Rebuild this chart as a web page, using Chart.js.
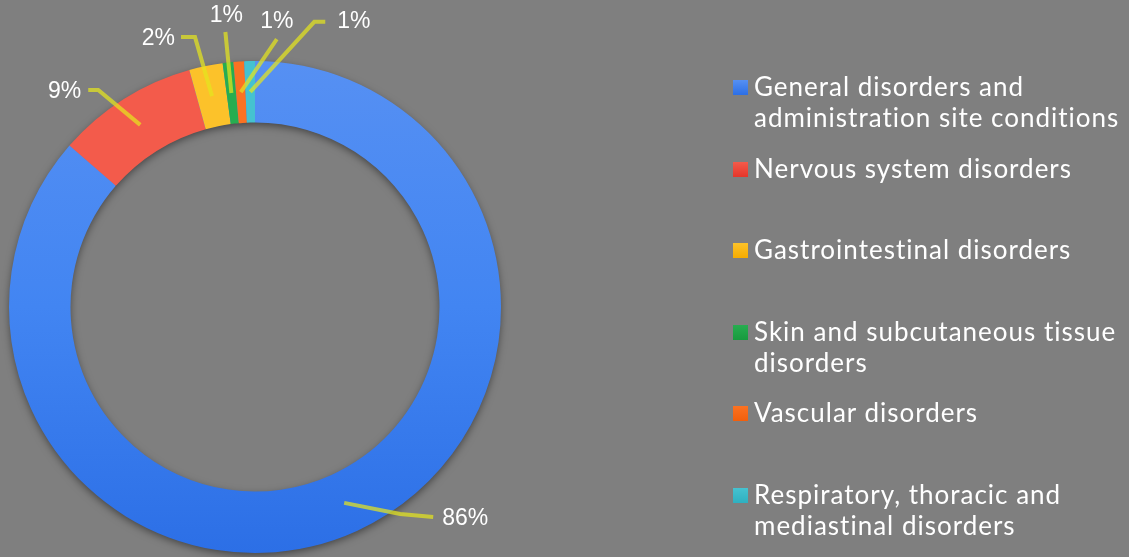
<!DOCTYPE html>
<html>
<head>
<meta charset="utf-8">
<script src="https://cdn.jsdelivr.net/npm/chart.js@4/dist/chart.umd.min.js"></script>
<style>
  html, body { margin: 0; padding: 0; background: #7f7f7f; }
  #wrap { position: relative; width: 1129px; height: 557px; overflow: hidden; }
  #pie { position: absolute; left: 0; top: 0; }
  #legend { position: absolute; left: 733px; top: 71px; font-family: Lato, sans-serif; font-size: 26px; letter-spacing: 1px; font-variant-ligatures: none; color: #fff; }
  .item { position: absolute; left: 0; width: 420px; line-height: 31px; }
  .box { position: absolute; left: 0; top: 9px; width: 15px; height: 15px; }
  .txt { margin-left: 21px; white-space: nowrap; }
</style>
</head>
<body>
<div id="wrap">
  <canvas id="pie" width="1129" height="557"></canvas>
  <div id="legend"></div>
</div>
<script>
const categories = [
  'General disorders and\nadministration site conditions',
  'Nervous system disorders',
  'Gastrointestinal disorders',
  'Skin and subcutaneous tissue\ndisorders',
  'Vascular disorders',
  'Respiratory, thoracic and\nmediastinal disorders'
];
const shares = [86.4, 9.3, 2.2, 0.7, 0.7, 0.7];
const topColors = ['#5690f3', '#f35b4b', '#fcc22a', '#27ad50', '#fb7222', '#45c2d0'];
const bottomColors = ['#2c6fe6', '#e5352a', '#f6ac00', '#179a3e', '#f25f0c', '#2fb0c0'];

// label placement relative to each slice's centre point (elbow, line end, text)
const labelLayout = [
  { elbow: [56, 11], end: [89, 14], text: [98, 16], align: 'left' },
  { elbow: [-42, -35], end: [-52, -35], text: [-59, -33], align: 'right' },
  { elbow: [-17, -59], end: [-31, -59], text: [-37, -57], align: 'right' },
  { elbow: null, end: [-6, -61], text: [-5, -77], align: 'center' },
  { elbow: null, end: [36, -53], text: [36, -71], align: 'center' },
  { elbow: [64, -70], end: [75, -70], text: [87, -70], align: 'left' }
];

function sliceFill(ctx) {
  const chart = ctx.chart;
  const area = chart.chartArea;
  const i = ctx.dataIndex;
  if (!area) return topColors[i];
  const g = chart.ctx.createLinearGradient(0, area.top, 0, area.bottom);
  g.addColorStop(0, topColors[i]);
  g.addColorStop(0.5, topColors[i] === '#5690f3' ? '#4285f2' : topColors[i]);
  g.addColorStop(1, bottomColors[i]);
  return g;
}

// soft shadow under the whole ring
const ringShadow = {
  id: 'ringShadow',
  beforeDatasetsDraw(chart) {
    const arc = chart.getDatasetMeta(0).data[0];
    if (!arc) return;
    const c = chart.ctx;
    c.save();
    c.shadowColor = 'rgba(0,0,0,0.5)';
    c.shadowBlur = 9;
    c.shadowOffsetY = 3;
    c.fillStyle = '#4a7fd8';
    c.beginPath();
    c.arc(arc.x, arc.y, arc.outerRadius - 1, 0, Math.PI * 2);
    c.arc(arc.x, arc.y, arc.innerRadius + 1, 0, Math.PI * 2, true);
    c.fill();
    c.restore();
  }
};

const leaderLabels = {
  id: 'leaderLabels',
  afterDatasetsDraw(chart) {
    const c = chart.ctx;
    const arcs = chart.getDatasetMeta(0).data;
    c.save();
    arcs.forEach((arc, i) => {
      const p = arc.getCenterPoint();
      const L = labelLayout[i];
      c.strokeStyle = 'rgba(228,228,30,0.72)';
      c.lineWidth = 4;
      c.lineJoin = 'miter';
      c.beginPath();
      c.moveTo(p.x, p.y);
      if (L.elbow) c.lineTo(p.x + L.elbow[0], p.y + L.elbow[1]);
      c.lineTo(p.x + L.end[0], p.y + L.end[1]);
      c.stroke();
      c.fillStyle = '#ffffff';
      c.font = '23px "Liberation Sans", Arial, sans-serif';
      c.textAlign = L.align;
      c.textBaseline = 'middle';
      c.fillText(Math.round(shares[i]) + '%', p.x + L.text[0], p.y + L.text[1]);
    });
    c.restore();
  }
};

new Chart(document.getElementById('pie'), {
  type: 'doughnut',
  data: {
    labels: categories,
    datasets: [{
      data: shares,
      backgroundColor: sliceFill,
      borderWidth: 0
    }]
  },
  options: {
    responsive: false,
    animation: false,
    cutout: '75%',
    layout: { padding: { left: 9, top: 61, right: 628, bottom: 4 } },
    plugins: {
      legend: { display: false },
      tooltip: { enabled: false }
    }
  },
  plugins: [ringShadow, leaderLabels]
});

// legend on the right
const legend = document.getElementById('legend');
categories.forEach((name, i) => {
  const item = document.createElement('div');
  item.className = 'item';
  item.style.top = (i * 81.6) + 'px';
  const box = document.createElement('div');
  box.className = 'box';
  box.style.background = 'linear-gradient(' + topColors[i] + ',' + bottomColors[i] + ')';
  const txt = document.createElement('div');
  txt.className = 'txt';
  txt.innerHTML = name.split('\n').join('<br>');
  item.appendChild(box);
  item.appendChild(txt);
  legend.appendChild(item);
});
</script>
</body>
</html>
